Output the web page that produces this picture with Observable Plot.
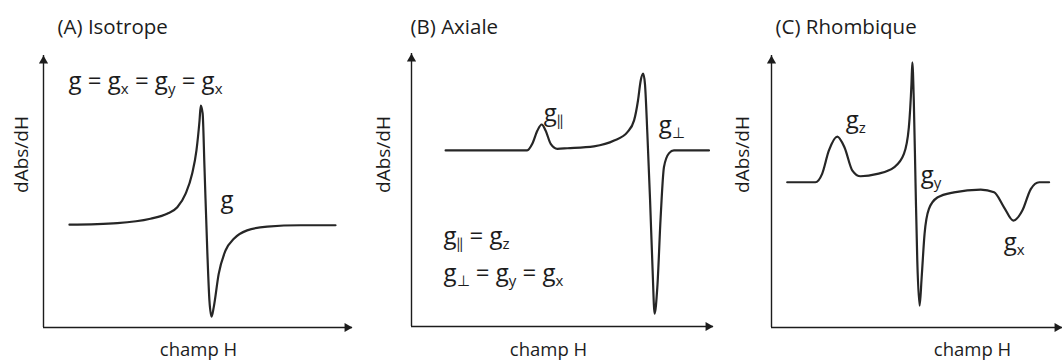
<!DOCTYPE html>
<html><head><meta charset="utf-8">
<script src="https://cdn.jsdelivr.net/npm/d3@7"></script>
<script src="https://cdn.jsdelivr.net/npm/@observablehq/plot@0.6"></script>
<style>
body{margin:0;background:#fff;}
#wrap{position:relative;width:1062px;height:360px;overflow:hidden;background:#fff;}
.panel{position:absolute;top:0;}
</style></head><body><div id="wrap"></div>
<script>
// ---------- data (arbitrary units: champ H 0–100, dAbs/dH 0–100) ----------
const titles = ["(A) Isotrope", "(B) Axiale", "(C) Rhombique"];
const yLabel = "dAbs/dH";
const xLabel = "champ H";

const fieldA  = [8.4, 23.9, 34.6, 40.0, 43.3, 46.0, 48.1, 49.5, 50.5, 50.9, 51.5, 52.1, 53.0, 53.7, 54.4, 55.1, 56.7, 58.9, 61.6, 65.9, 72.4, 83.2, 94.5];
const signalA = [37.8, 38.4, 40.0, 41.8, 44.2, 49.2, 56.5, 65.1, 76.1, 81.6, 78.7, 58.8, 28.3, 9.9, 4.0, 7.5, 19.7, 28.3, 32.6, 35.7, 37.1, 37.6, 37.6];

const fieldB  = [11.3, 38.3, 40.0, 41.7, 43.1, 44.4, 46.1, 48.3, 51.6, 60.4, 67.1, 71.5, 73.7, 75.0, 75.9, 76.7, 77.3, 78.1, 79.0, 79.8, 80.5, 81.4, 82.5, 83.6, 85.3, 86.9, 98.5];
const signalB = [64.5, 64.5, 66.9, 71.8, 74.0, 71.8, 66.9, 65.1, 65.3, 66.0, 68.1, 71.2, 75.5, 82.8, 90.1, 92.6, 88.9, 70.6, 46.2, 21.7, 4.7, 14.4, 40.0, 58.4, 63.5, 64.5, 64.5];

const fieldC  = [5.4, 15.1, 17.4, 19.7, 22.6, 25.1, 27.8, 30.6, 36.4, 42.1, 45.5, 47.2, 48.1, 48.4, 48.9, 49.5, 50.1, 50.9, 51.6, 52.6, 54.1, 57.0, 62.7, 71.9, 76.5, 79.9, 83.1, 86.2, 89.1, 92.0, 95.4];
const signalC = [53.4, 53.4, 56.5, 65.0, 70.2, 66.2, 57.7, 55.6, 56.5, 58.9, 63.8, 73.6, 89.6, 97.5, 83.4, 52.8, 24.5, 8.0, 18.4, 34.4, 43.6, 47.8, 49.7, 50.7, 49.7, 44.2, 39.3, 43.0, 50.9, 53.4, 53.4];

// annotations (text, anchor position in the same units)
const notesA_text = ["g = g_x = g_y = g_x", "g"];
const notesA_x    = [8.1, 57.3];
const notesA_y    = [90.4, 46.7];
const notesB_text = ["g_‖", "g_⊥", "g_‖ = g_z", "g_⊥ = g_y = g_x"];
const notesB_x    = [43.8, 81.9, 10.6, 10.6];
const notesB_y    = [78.0, 73.6, 33.0, 19.4];
const notesC_text = ["g_z", "g_y", "g_x"];
const notesC_x    = [25.5, 51.3, 79.8];
const notesC_y    = [76.1, 55.8, 31.2];

// ---------- layout ----------
const FONT = "'Open Sans', Lato, sans-serif";
const INK = "#1c1c1c";
const panels = [
  {left: 0,   width: 360, mL: 43, mR: 8, mT: 55, mB: 33, title: [14, -29], ylab: [-22, -37], xlab: [0.5, 23],
   field: fieldA, signal: signalA, nt: notesA_text, nx: notesA_x, ny: notesA_y},
  {left: 360, width: 360, mL: 51, mR: 7, mT: 53, mB: 34, title: [-1, -27], ylab: [-28, -35.5], xlab: [-14, 24],
   field: fieldB, signal: signalB, nt: notesB_text, nx: notesB_x, ny: notesB_y},
  {left: 720, width: 342, mL: 51, mR: 0, mT: 55, mB: 33, title: [4, -29], ylab: [-28.5, -37], xlab: [55.5, 23],
   field: fieldC, signal: signalC, nt: notesC_text, nx: notesC_x, ny: notesC_y}
];

const wrap = document.getElementById("wrap");

panels.forEach((p, i) => {
  const curve = p.field.map((h, k) => ({h, s: p.signal[k]}));
  const notes = p.nt.map((t, k) => ({t, x: p.nx[k], y: p.ny[k]}));
  const chart = Plot.plot({
    width: p.width, height: 360,
    marginLeft: p.mL, marginRight: p.mR, marginTop: p.mT, marginBottom: p.mB,
    x: {domain: [0, 100], axis: null},
    y: {domain: [0, 100], axis: null},
    style: {fontFamily: FONT, background: "white", color: INK},
    marks: [
      Plot.ruleX([0], {y1: 0, y2: 100, stroke: INK, strokeWidth: 1.4}),
      Plot.ruleY([0], {x1: 0, x2: 100, stroke: INK, strokeWidth: 1.4}),
      Plot.dot([{x: 0, y: 100}], {x: "x", y: "y", symbol: "triangle", r: 3.4, fill: INK, stroke: null, dy: 5.3}),
      Plot.dot([{x: 100, y: 0}], {x: "x", y: "y", symbol: "triangle", r: 3.4, fill: INK, stroke: null, rotate: 90, dx: -5.3}),
      Plot.line(curve, {x: "h", y: "s", curve: "monotone-x", stroke: "#262626", strokeWidth: 2.2}),
      Plot.text(notes, {x: "x", y: "y", text: "t", textAnchor: "start", lineAnchor: "middle", fontSize: 24, fill: INK}),
      Plot.text([titles[i]], {frameAnchor: "top-left", textAnchor: "start", lineAnchor: "middle", dx: p.title[0], dy: p.title[1] + 1, fontSize: 20.5, fill: INK}),
      Plot.text([yLabel], {frameAnchor: "left", rotate: -90, textAnchor: "middle", lineAnchor: "middle", dx: p.ylab[0], dy: p.ylab[1], fontSize: 19, fill: INK}),
      Plot.text([xLabel], {frameAnchor: "bottom", textAnchor: "middle", lineAnchor: "middle", dx: p.xlab[0], dy: p.xlab[1], fontSize: 18.5, fill: INK})
    ]
  });
  chart.querySelectorAll("text").forEach(el => {
    const s = el.textContent;
    if (!s.includes("_")) return;
    el.textContent = "";
    const parts = s.split(/_(.)/);
    parts.forEach((part, k) => {
      if (!part) return;
      const ts = document.createElementNS("http://www.w3.org/2000/svg", "tspan");
      ts.textContent = part;
      if (k % 2 === 1) {
        ts.setAttribute("font-size", "15");
        ts.setAttribute("dy", "5");
      } else if (k > 0) {
        ts.setAttribute("dy", "-5");
      }
      el.appendChild(ts);
    });
  });
  chart.classList.add("panel");
  chart.style.left = p.left + "px";
  wrap.appendChild(chart);
});
</script></body></html>
